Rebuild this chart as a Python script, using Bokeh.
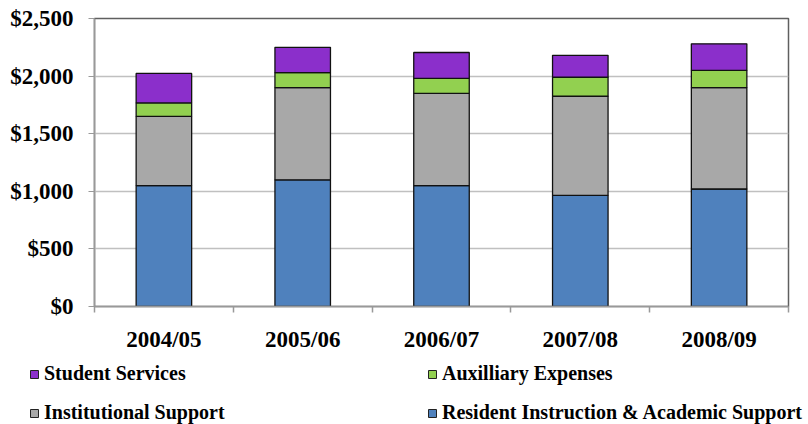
import numpy as np
from bokeh.plotting import figure
from bokeh.layouts import column
from bokeh.models import (ColumnDataSource, Range1d, FixedTicker, NumeralTickFormatter,
                          Legend, LegendItem)
from bokeh.embed import file_html
from bokeh.resources import INLINE

# ---- data ----
categories = ["2004/05", "2005/06", "2006/07", "2007/08", "2008/09"]
resident_instruction = [1050, 1100, 1050, 965, 1020]
institutional_support = [600, 800, 800, 860, 880]
auxilliary_expenses = [117, 130, 130, 165, 150]
student_services = [256, 220, 225, 190, 230]
y_ticks = [0, 500, 1000, 1500, 2000, 2500]

series_names = ["Resident Instruction & Academic Support", "Institutional Support",
                "Auxilliary Expenses", "Student Services"]
series_values = [resident_instruction, institutional_support, auxilliary_expenses, student_services]
series_colors = ["#4F81BD", "#A8A8A8", "#92D050", "#8B2FCB"]
# legend is filled column by column: col 1 = Student Services, Institutional Support
legend_order = ["Student Services", "Institutional Support", "Auxilliary Expenses",
                "Resident Instruction & Academic Support"]

FONT = "Liberation Serif"

x = np.arange(len(categories)) + 0.5
p = figure(width=808, height=354, output_backend="svg", toolbar_location=None,
           x_range=Range1d(0, len(categories)), y_range=Range1d(0, 2500),
           min_border_left=94, min_border_right=20, min_border_top=18, min_border_bottom=46)
p.frame_align = False
p.background_fill_color = "white"
p.border_fill_color = "white"
p.outline_line_color = "#5f5f5f"
p.outline_line_width = 1.5

bottom = np.zeros(len(categories))
for name, vals, col in zip(series_names, series_values, series_colors):
    vals = np.array(vals, dtype=float)
    src = ColumnDataSource(dict(x=x, top=bottom + vals, bottom=bottom))
    p.vbar(x="x", top="top", bottom="bottom", width=0.40, source=src,
           fill_color=col, line_color="#111111", line_width=1.3)
    bottom = bottom + vals

# grid
p.xgrid.grid_line_color = None
p.ygrid.grid_line_color = "#C0C0C0"
p.ygrid.grid_line_width = 1.5

# y axis
p.yaxis.ticker = FixedTicker(ticks=y_ticks)
p.yaxis.formatter = NumeralTickFormatter(format="$0,0")
p.yaxis.axis_line_color = "#999999"
p.yaxis.axis_line_width = 1.5
p.yaxis.major_tick_line_color = "#999999"
p.yaxis.major_tick_out = 6
p.yaxis.major_tick_in = 0
p.yaxis.minor_tick_line_color = None
p.yaxis.major_label_standoff = 15
p.yaxis.major_label_text_font = FONT
p.yaxis.major_label_text_font_style = "bold"
p.yaxis.major_label_text_font_size = "23px"
p.yaxis.major_label_text_color = "black"

# x axis: labels at category centers, tick marks between categories
p.xaxis.ticker = FixedTicker(ticks=list(x), minor_ticks=list(range(len(categories) + 1)))
p.xaxis.major_label_overrides = {float(v): c for v, c in zip(x, categories)}
p.xaxis.axis_line_color = "#999999"
p.xaxis.axis_line_width = 1.5
p.xaxis.major_tick_line_color = None
p.xaxis.major_tick_out = 0
p.xaxis.major_tick_in = 0
p.xaxis.minor_tick_line_color = "#999999"
p.xaxis.minor_tick_line_width = 1.5
p.xaxis.minor_tick_out = 6
p.xaxis.minor_tick_in = 0
p.xaxis.major_label_standoff = 14
p.xaxis.major_label_text_font = FONT
p.xaxis.major_label_text_font_style = "bold"
p.xaxis.major_label_text_font_size = "23px"
p.xaxis.major_label_text_color = "black"

# legend strip below the chart
pl = figure(width=808, height=70, output_backend="svg", toolbar_location=None,
            x_range=Range1d(0, 1), y_range=Range1d(0, 1),
            min_border_left=0, min_border_right=0, min_border_top=0, min_border_bottom=0)
pl.frame_align = False
pl.axis.visible = False
pl.grid.visible = False
pl.outline_line_color = None
color_of = dict(zip(series_names, series_colors))
items = []
for n in legend_order:
    r = pl.vbar(x=[-10], top=[-10], bottom=[-11], width=0.1, fill_color=color_of[n],
                line_color="#222222", line_width=1)
    items.append(LegendItem(label=n, renderers=[r]))
legend = Legend(items=items, ncols=2, location=(29, 0),
                glyph_width=10, glyph_height=10, label_standoff=5,
                label_width=367, label_height=20, spacing=16,
                padding=0, margin=0, border_line_color=None, background_fill_alpha=0,
                label_text_font=FONT, label_text_font_style="bold",
                label_text_font_size="20px", label_text_color="black")
pl.add_layout(legend, "center")

layout = column(p, pl, spacing=0)
open("out.html", "w").write(file_html(layout, INLINE))
